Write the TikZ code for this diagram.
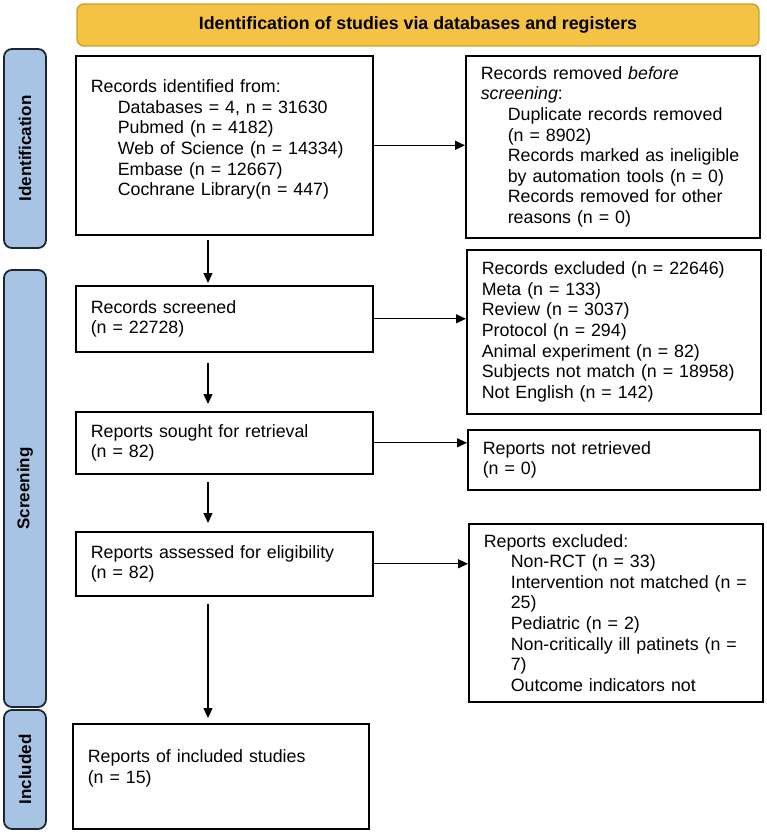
\documentclass[tikz,border=0pt]{standalone}
\usepackage{fontspec}
\setmainfont{Liberation Sans}
\usepackage{xcolor}
\usepackage{tikz}
\usetikzlibrary{arrows.meta,positioning,calc}

\definecolor{bannerfill}{HTML}{F4C344}
\definecolor{bannerline}{HTML}{C99F2C}
\definecolor{phasefill}{HTML}{A8C4E4}
\definecolor{phaseline}{HTML}{1E2630}
\newcommand{\indentline}{\hspace*{27pt}}

\begin{document}
\begin{tikzpicture}[x=1pt,y=-1pt,>={Triangle[length=10pt,width=9pt]},
  box/.style={draw,line width=1.6pt,anchor=north west,align=left,inner xsep=15pt,inner ysep=0pt,
              font=\fontsize{17.8}{20.6}\selectfont},
  phase/.style={draw=phaseline,fill=phasefill,line width=1.8pt,rounded corners=8pt,rotate=90,
                inner sep=0pt,minimum height=42pt,font=\bfseries\fontsize{17}{19}\selectfont},
  flow/.style={->,line width=1.2pt}]
\useasboundingbox (0,0) rectangle (767,834);

% banner and phase bars
\node[draw=bannerline,fill=bannerfill,line width=1.4pt,rounded corners=7pt,minimum width=682pt,
      minimum height=42pt,font=\bfseries\fontsize{17.8}{20}\selectfont] (banner) at (418,25)
      {Identification of studies via databases and registers};
\node[phase,minimum width=199pt] (pident) at (25,148.5) {Identification};
\node[phase,minimum width=437pt] (pscreen) at (25,488.5) {Screening};
\node[phase,minimum width=119pt] (pincl) at (25,769.5) {Included};

% left column
\node[box,minimum width=297pt,text width=267pt,minimum height=179pt,text depth=118pt] (ident) at (75,55)
  {Records identified from:\\
   \indentline Databases = 4, n = 31630\\
   \indentline Pubmed (n = 4182)\\
   \indentline Web of Science (n = 14334)\\
   \indentline Embase (n = 12667)\\
   \indentline Cochrane Library(n = 447)};
\node[box,minimum width=297pt,text width=267pt,minimum height=66pt] (screened) at (75,285)
  {Records screened\\(n = 22728)};
\node[box,minimum width=297pt,text width=267pt,minimum height=62pt] (sought) at (75,411)
  {Reports sought for retrieval\\(n = 82)};
\node[box,minimum width=297pt,text width=267pt,minimum height=64pt] (assessed) at (75,531)
  {Reports assessed for eligibility\\(n = 82)};
\node[box,minimum width=296pt,text width=266pt,minimum height=105pt,text depth=40pt] (included) at (72,723)
  {Reports of included studies\\(n = 15)};

% right column
\node[box,minimum width=294pt,text width=264pt,minimum height=182pt] (removed) at (465,55)
  {Records removed \textit{before}\\
   \textit{screening}:\\
   \indentline Duplicate records removed\\
   \indentline (n = 8902)\\
   \indentline Records marked as ineligible\\
   \indentline by automation tools (n = 0)\\
   \indentline Records removed for other\\
   \indentline reasons (n = 0)};
\node[box,minimum width=294pt,text width=264pt,minimum height=164pt] (excluded) at (466,249)
  {Records excluded (n = 22646)\\
   Meta (n = 133)\\
   Review (n = 3037)\\
   Protocol (n = 294)\\
   Animal experiment (n = 82)\\
   Subjects not match (n = 18958)\\
   Not English (n = 142)};
\node[box,minimum width=292pt,text width=262pt,minimum height=60pt] (notret) at (467,429)
  {Reports not retrieved\\(n = 0)};
\node[box,minimum width=294pt,text width=264pt,minimum height=178pt] (repexcl) at (468,523)
  {Reports excluded:\\
   \indentline Non-RCT (n = 33)\\
   \indentline Intervention not matched (n =\\
   \indentline 25)\\
   \indentline Pediatric (n = 2)\\
   \indentline Non-critically ill patinets (n =\\
   \indentline 7)\\
   \indentline Outcome indicators not};

% arrows
\coordinate (col) at (208,0);
\foreach \a/\b/\s/\e in {ident/screened/4/2, screened/sought/10/7, sought/assessed/7/8, assessed/included/7/5}
  \draw[flow,shorten <=\s pt,shorten >=\e pt] (\a.south -| col) -- (\b.north -| col);
\foreach \a/\b in {ident/removed, screened/excluded, sought/notret, assessed/repexcl}
  \draw[flow] (\a.east) -- (\a.east -| \b.west);
\end{tikzpicture}
\end{document}
